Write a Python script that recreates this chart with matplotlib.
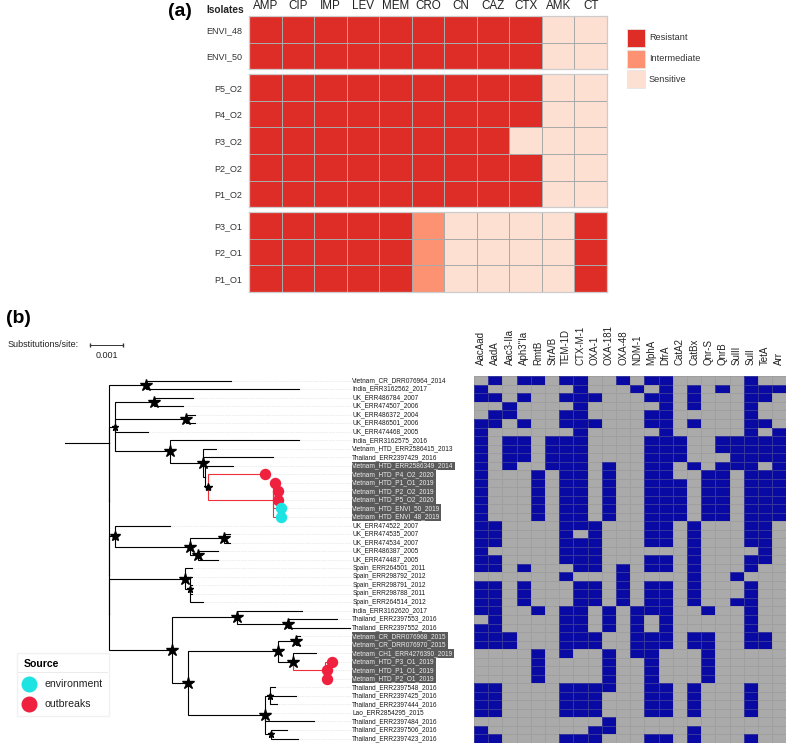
import numpy as np
import matplotlib.pyplot as plt
from matplotlib.colors import ListedColormap
from matplotlib.patches import Rectangle
from matplotlib.lines import Line2D

plt.rcParams['font.family'] = ['Liberation Sans', 'DejaVu Sans']

W, H = 787, 744


def rect(x0, y0, x1, y1):
    # pixel box (top-left origin) -> figure fraction
    return [x0 / W, 1 - y1 / H, (x1 - x0) / W, (y1 - y0) / H]


# ---------------- panel (a): susceptibility calls ----------------
ast_drugs = ['AMP', 'CIP', 'IMP', 'LEV', 'MEM', 'CRO', 'CN', 'CAZ', 'CTX', 'AMK', 'CT']
ast_isolates = ['ENVI_48', 'ENVI_50',
                'P5_O2', 'P4_O2', 'P3_O2', 'P2_O2', 'P1_O2',
                'P3_O1', 'P2_O1', 'P1_O1']
ast_groups = [2, 5, 3]
ast_calls = ['RRRRRRRRRSS', 'RRRRRRRRRSS',
             'RRRRRRRRRSS', 'RRRRRRRRRSS', 'RRRRRRRRSSS', 'RRRRRRRRRSS', 'RRRRRRRRRSS',
             'RRRRRISSSSR', 'RRRRRISSSSR', 'RRRRRISSSSR']
ast_levels = ['S', 'I', 'R']
ast_names = ['Sensitive', 'Intermediate', 'Resistant']
ast_colors = ['#FEE0D2', '#FC9272', '#DE2D26']

# ---------------- panel (b): tree + gene presence ----------------
tips = ['Vietnam_CR_DRR076964_2014', 'India_ERR3162562_2017', 'UK_ERR486784_2007',
        'UK_ERR474507_2006', 'UK_ERR486372_2004', 'UK_ERR486501_2006', 'UK_ERR474468_2005',
        'India_ERR3162575_2016', 'Vietnam_HTD_ERR2586415_2013', 'Thailand_ERR2397429_2016',
        'Vietnam_HTD_ERR2586349_2014', 'Vietnam_HTD_P4_O2_2020', 'Vietnam_HTD_P1_O1_2019',
        'Vietnam_HTD_P2_O2_2019', 'Vietnam_HTD_P5_O2_2020', 'Vietnam_HTD_ENVI_50_2019',
        'Vietnam_HTD_ENVI_48_2019', 'UK_ERR474522_2007', 'UK_ERR474535_2007',
        'UK_ERR474534_2007', 'UK_ERR486387_2005', 'UK_ERR474487_2005', 'Spain_ERR264501_2011',
        'Spain_ERR298792_2012', 'Spain_ERR298791_2012', 'Spain_ERR298788_2011',
        'Spain_ERR264514_2012', 'India_ERR3162620_2017', 'Thailand_ERR2397553_2016',
        'Thailand_ERR2397552_2016', 'Vietnam_CR_DRR076968_2015', 'Vietnam_CR_DRR076970_2015',
        'Vietnam_CH1_ERR4276390_2019', 'Vietnam_HTD_P3_O1_2019', 'Vietnam_HTD_P1_O1_2019',
        'Vietnam_HTD_P2_O1_2019', 'Thailand_ERR2397548_2016', 'Thailand_ERR2397425_2016',
        'Thailand_ERR2397444_2016', 'Lao_ERR2854295_2015', 'Thailand_ERR2397484_2016',
        'Thailand_ERR2397506_2016', 'Thailand_ERR2397423_2016']
highlighted = [10, 11, 12, 13, 14, 15, 16, 30, 31, 32, 33, 34, 35]

# distance from root (substitutions/site)
tip_depth = [0.00503, 0.00709, 0.00388, 0.00358, 0.00394, 0.00394, 0.00252, 0.00709, 0.00458, 0.00630,
             0.00509, 0.00606, 0.00636, 0.00645, 0.00645, 0.00655, 0.00655, 0.00318, 0.00500, 0.00500,
             0.00464, 0.00464, 0.00385, 0.00385, 0.00385, 0.00385, 0.00418, 0.00718, 0.00824, 0.00864,
             0.00712, 0.00712, 0.00761, 0.00809, 0.00794, 0.00794, 0.00636, 0.00700, 0.00642, 0.00621,
             0.00755, 0.00673, 0.00706]
tree = {'N0': ['A', 'N1'], 'A': [0, 1], 'N1': ['B', 'N2'], 'B': ['C', 'D', 6, 'E'],
        'C': [2, 3], 'D': [4, 5], 'E': [7, 'F'], 'F': [8, 9, 'G'], 'G': [10, 'H'],
        'H': [11, 'I'], 'I': [12, 13, 14, 15, 16], 'N2': ['J', 'N3'], 'J': [17, 'M'],
        'M': ['Nn', 'O'], 'Nn': [18, 19], 'O': [20, 21], 'N3': ['L', 'K'], 'L': [22, 'P'],
        'P': [23, 24, 25, 26], 'K': ['R', 'S'], 'R': [27, 'T'], 'T': [28, 29],
        'S': ['U', 'V'], 'U': ['W', 'X'], 'W': [30, 31], 'X': [32, 'Y'], 'Y': [33, 34, 35],
        'V': ['Z1', 39, 40, 'Z2'], 'Z1': [36, 37, 38], 'Z2': [41, 42]}
node_depth = {'N0': 0.00133, 'N1': 0.00133, 'N2': 0.00133, 'N3': 0.00133, 'A': 0.00245,
              'B': 0.00152, 'C': 0.00270, 'D': 0.00367, 'E': 0.00318, 'F': 0.00418,
              'G': 0.00424, 'H': 0.00433, 'I': 0.00630, 'J': 0.00152, 'M': 0.00379,
              'Nn': 0.00482, 'O': 0.00403, 'L': 0.00364, 'P': 0.00379, 'K': 0.00324,
              'R': 0.00521, 'T': 0.00676, 'S': 0.00373, 'U': 0.00645, 'W': 0.00700,
              'X': 0.00691, 'Y': 0.00788, 'V': 0.00606, 'Z1': 0.00621, 'Z2': 0.00624}
support_star = {'A': 9, 'B': 5, 'C': 9, 'D': 9, 'E': 9, 'F': 9, 'H': 6, 'J': 7, 'M': 9,
                'Nn': 9, 'O': 9, 'L': 9, 'P': 5, 'K': 9, 'R': 9, 'T': 9, 'S': 9, 'U': 9,
                'W': 9, 'X': 9, 'V': 9, 'Z1': 5, 'Z2': 5}
outbreak_edges = [11, 'I', 12, 13, 14, 15, 16, 'Y', 33, 34, 35]
tip_source = {11: 'outbreaks', 12: 'outbreaks', 13: 'outbreaks', 14: 'outbreaks',
              15: 'environment', 16: 'environment',
              33: 'outbreaks', 34: 'outbreaks', 35: 'outbreaks'}
source_colors = {'environment': '#1EE3E3', 'outbreaks': '#F0203F'}

genes = ['AacAad', 'AadA', 'Aac3-IIa', "Aph3''Ia", 'RmtB', 'StrA/B', 'TEM-1D', 'CTX-M-1',
         'OXA-1', 'OXA-181', 'OXA-48', 'NDM-1', 'MphA', 'DfrA', 'CatA2', 'CatBx', 'Qnr-S',
         'QnrB', 'SulII', 'SulI', 'TetA', 'Arr']
gene_rows = ['0101101100101100000100', '1000000100010101010111', '1101001110001101000110',
             '0010000100000101000100', '0110001100001100000100', '1101001110001101000110',
             '1000000100000100000101', '1011011100001110011111', '1011011100001110011111',
             '1011011100001110001111', '1010011101001101011101', '1000101101001100110111',
             '1000101101001110110111', '1000101101001110110111', '1000101101001110110111',
             '1000101101001110110111', '1000101101001110110111', '1100001110001101000110',
             '1100001010001101000110', '1100001110001101000110', '1000001110000001000010',
             '1100001110001101000110', '1101000110101101000100', '0000001000100001001000',
             '1101000110101101000100', '1101000110101101000100', '1101000110101101001100',
             '1100101101011100100100', '0100001101010100000100', '1100001101010100000100',
             '1110001110011101100110', '1110001110011101100110', '0000101001011000100000',
             '0000100001001000100000', '0000100001001000100000', '0000100001001000100000',
             '1100001111001101000100', '1100001110001101000100', '1100001110001101000100',
             '1100001110001101000100', '0000000001000000000000', '1000000011000001000000',
             '1100001110001101000100']

fig = plt.figure(figsize=(W / 100, H / 100), dpi=100)

# ---- (a) heatmap, split by isolate group
gs = fig.add_gridspec(3, 1, left=249 / W, right=607 / W, top=1 - 16 / H, bottom=1 - 292 / H,
                      height_ratios=ast_groups, hspace=0.053)
cmap_a = ListedColormap(ast_colors)
start = 0
for g, n in enumerate(ast_groups):
    ax = fig.add_subplot(gs[g])
    z = np.array([[ast_levels.index(c) for c in r] for r in ast_calls[start:start + n]])
    ax.pcolormesh(z, cmap=cmap_a, vmin=-0.5, vmax=2.5, edgecolors='#aaaaaa', linewidth=0.5)
    ax.set_xlim(0, len(ast_drugs))
    ax.set_ylim(n, 0)
    ax.set_yticks(np.arange(n) + 0.5, ast_isolates[start:start + n])
    ax.tick_params(axis='y', length=0, labelsize=6.5, pad=5, labelcolor='#333333')
    if g == 0:
        ax.xaxis.tick_top()
        ax.set_xticks(np.arange(len(ast_drugs)) + 0.5, ast_drugs)
        ax.tick_params(axis='x', length=0, labelsize=8.4, pad=3, labelcolor='#222222')
    else:
        ax.set_xticks([])
    for s in ax.spines.values():
        s.set_color('#cccccc')
        s.set_linewidth(0.9)
    start += n

fig.text(206 / W, 1 - 10 / H, 'Isolates', fontsize=7.3, fontweight='bold', va='center', color='#222222')
fig.text(168 / W, 1 - 12 / H, '(a)', fontsize=14, fontweight='bold', va='center')

# legend of panel (a): three square keys
for k, lvl in enumerate((2, 1, 0)):
    top = 29 + 20.5 * k
    fig.add_artist(Rectangle((627 / W, 1 - (top + 18) / H), 18 / W, 18 / H, transform=fig.transFigure,
                             facecolor=ast_colors[lvl], edgecolor='#e6e6e6', lw=0.6))
    fig.text(649 / W, 1 - (top + 9) / H, ast_names[lvl], fontsize=6.6, va='center', color='#333333')

# ---- (b) tree
x_left = -65 / 33000
label_x = (351.7 - 65) / 33000
ax_t = fig.add_axes(rect(0, 376.4, 351.7, 742.8))
ax_t.set_xlim(x_left, label_x)
ax_t.set_ylim(len(tips) - 0.5, -0.5)
ax_t.axis('off')

ypos = {}
xpos = dict(node_depth)
for i, d in enumerate(tip_depth):
    ypos[i] = float(i)
    xpos[i] = d


def place(n):
    if isinstance(n, int):
        return ypos[n]
    ys = [place(c) for c in tree[n]]
    ypos[n] = (min(ys) + max(ys)) / 2
    return ypos[n]


place('N0')
ax_t.plot([0, xpos['N0']], [ypos['N0'], ypos['N0']], color='black', lw=0.8)
for parent, kids in tree.items():
    for c in kids:
        col = '#F03038' if c in outbreak_edges else 'black'
        ax_t.plot([xpos[parent], xpos[parent], xpos[c]], [ypos[parent], ypos[c], ypos[c]],
                  color=col, lw=0.8, solid_joinstyle='miter')

for n, ms in support_star.items():
    ax_t.plot(xpos[n], ypos[n], marker='*', ms=ms, color='black', zorder=4)

for i, name in enumerate(tips):
    ax_t.plot([tip_depth[i], label_x], [i, i], color='#d6d6d6', lw=0.5, ls=(0, (1, 1.5)), zorder=0)
    if i in highlighted:
        ax_t.text(label_x + 0.00002, i, name, fontsize=4.7, va='center', ha='left', color='#eeeeee',
                  clip_on=False, bbox=dict(boxstyle='square,pad=0.12', fc='#5a5a5a', ec='none'))
    else:
        ax_t.text(label_x + 0.00002, i, name, fontsize=4.7, va='center', ha='left', color='#1a1a1a',
                  clip_on=False)

for i, src in tip_source.items():
    ax_t.plot(tip_depth[i], i, 'o', ms=7.2, color=source_colors[src], zorder=5)

# scale bar
ax_t.plot([0.00076, 0.00176], [-4.2, -4.2], color='#333333', lw=0.7, marker='|', ms=3, clip_on=False)
ax_t.text(0.00126, -2.9, '0.001', fontsize=6.5, ha='center', va='center', color='#222222')
fig.text(8 / W, 1 - 345 / H, 'Substitutions/site:', fontsize=6.5, va='center', color='#222222')
fig.text(6 / W, 1 - 318 / H, '(b)', fontsize=14, fontweight='bold', va='center')

src_handles = [Line2D([], [], ls='none', marker='o', ms=10.5, color=source_colors[k], label=k)
               for k in ('environment', 'outbreaks')]
leg = fig.legend(handles=src_handles, title='Source', loc='upper left',
                 bbox_to_anchor=(17 / W, 1 - 653 / H), fontsize=7.6,
                 title_fontproperties={'weight': 'bold', 'size': 7.6},
                 frameon=True, fancybox=False, edgecolor='#eeeeee', borderaxespad=0,
                 handlelength=1.15, handletextpad=0.85, labelspacing=0.95, borderpad=0.6,
                 labelcolor='#222222')
leg._legend_box.align = 'left'
fig.add_artist(Line2D([18 / W, 107 / W], [1 - 672 / H, 1 - 672 / H], color='#999999', lw=0.7))

# ---- (b) gene heatmap
ax_h = fig.add_axes(rect(474, 376.4, 786.3, 742.8))
gm = np.array([[int(ch) for ch in r] for r in gene_rows])
ax_h.pcolormesh(gm, cmap=ListedColormap(['#AAAAAA', '#0909A3']), vmin=0, vmax=1,
                edgecolors=(0.55, 0.55, 0.55, 0.35), linewidth=0.4)
ax_h.set_xlim(0, len(genes))
ax_h.set_ylim(len(gene_rows), 0)
ax_h.xaxis.tick_top()
ax_h.set_xticks(np.arange(len(genes)) + 0.5, genes, rotation=90)
ax_h.set_yticks([])
ax_h.tick_params(axis='x', length=0, labelsize=7, pad=8, labelcolor='#222222')
for s in ax_h.spines.values():
    s.set_visible(False)

fig.savefig('out.png', dpi=100)
